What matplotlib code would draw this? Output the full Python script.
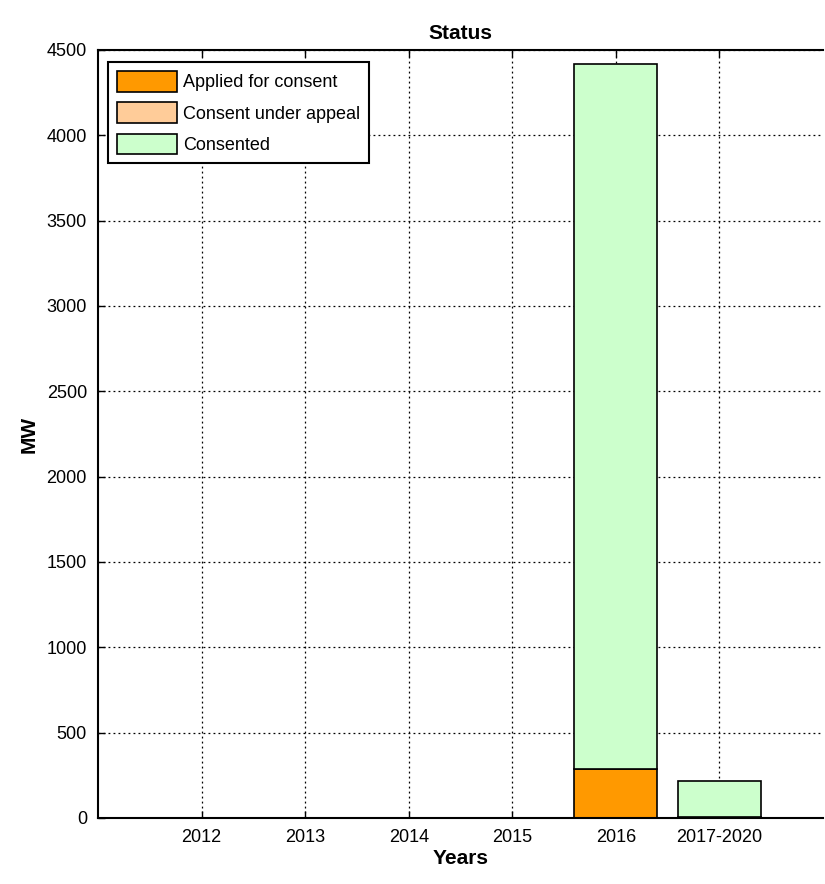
import numpy as np
import matplotlib.pyplot as plt
from matplotlib.patches import Patch

plt.rcParams['font.family'] = ['Liberation Sans', 'DejaVu Sans']

years = ['2012', '2013', '2014', '2015', '2016', '2017-2020']
applied = [0, 0, 0, 0, 290, 6]
appeal = [0, 0, 0, 0, 0, 0]
consented = [0, 0, 0, 0, 4130, 209]
names = ['Applied for consent', 'Consent under appeal', 'Consented']
colors = ['#ff9900', '#ffcc99', '#ccffcc']

fig = plt.figure(figsize=(8.25, 8.84), dpi=100)
ax = fig.add_axes([98/825, 66/884, 725/825, 768/884])

x = np.arange(1, len(years) + 1)
applied = np.array(applied)
appeal = np.array(appeal)
consented = np.array(consented)

bottom = np.zeros(len(years))
for vals, c in zip((applied, appeal, consented), colors):
    bars = ax.bar(x, vals, 0.8, bottom=bottom, color=c, edgecolor='black', linewidth=1.2)
    for r, v in zip(bars, vals):
        if v == 0:
            r.set_visible(False)
    bottom = bottom + vals

ax.set_xlim(0, 7)
ax.set_ylim(0, 4500)
ax.set_xticks(x)
ax.set_xticklabels(years)
ax.set_yticks(np.arange(0, 4501, 500))
ax.tick_params(direction='in', length=5, width=1, labelsize=13, top=True, right=False, pad=8)
ax.grid(True, color='black', linestyle=(0, (1.5, 2.5)), linewidth=0.9)
ax.set_axisbelow(True)
for s in ['left', 'bottom', 'top']:
    ax.spines[s].set_linewidth(1.5)
ax.spines['right'].set_visible(False)

ax.set_title('Status', fontsize=15, fontweight='bold', pad=8)
ax.set_xlabel('Years', fontsize=15, fontweight='bold', labelpad=2)
ax.set_ylabel('MW', fontsize=15, fontweight='bold', labelpad=6)

handles = [Patch(facecolor=c, edgecolor='black', linewidth=1.2) for c in colors]
leg = ax.legend(handles, names, loc='upper left', bbox_to_anchor=(0.0138, 0.984), fontsize=13,
                fancybox=False, framealpha=1, edgecolor='black', handlelength=3.3, handleheight=1.35,
                borderpad=0.5, labelspacing=0.6, handletextpad=0.35, borderaxespad=0)
leg.get_frame().set_linewidth(1.5)

fig.savefig('out.png', dpi=100)
